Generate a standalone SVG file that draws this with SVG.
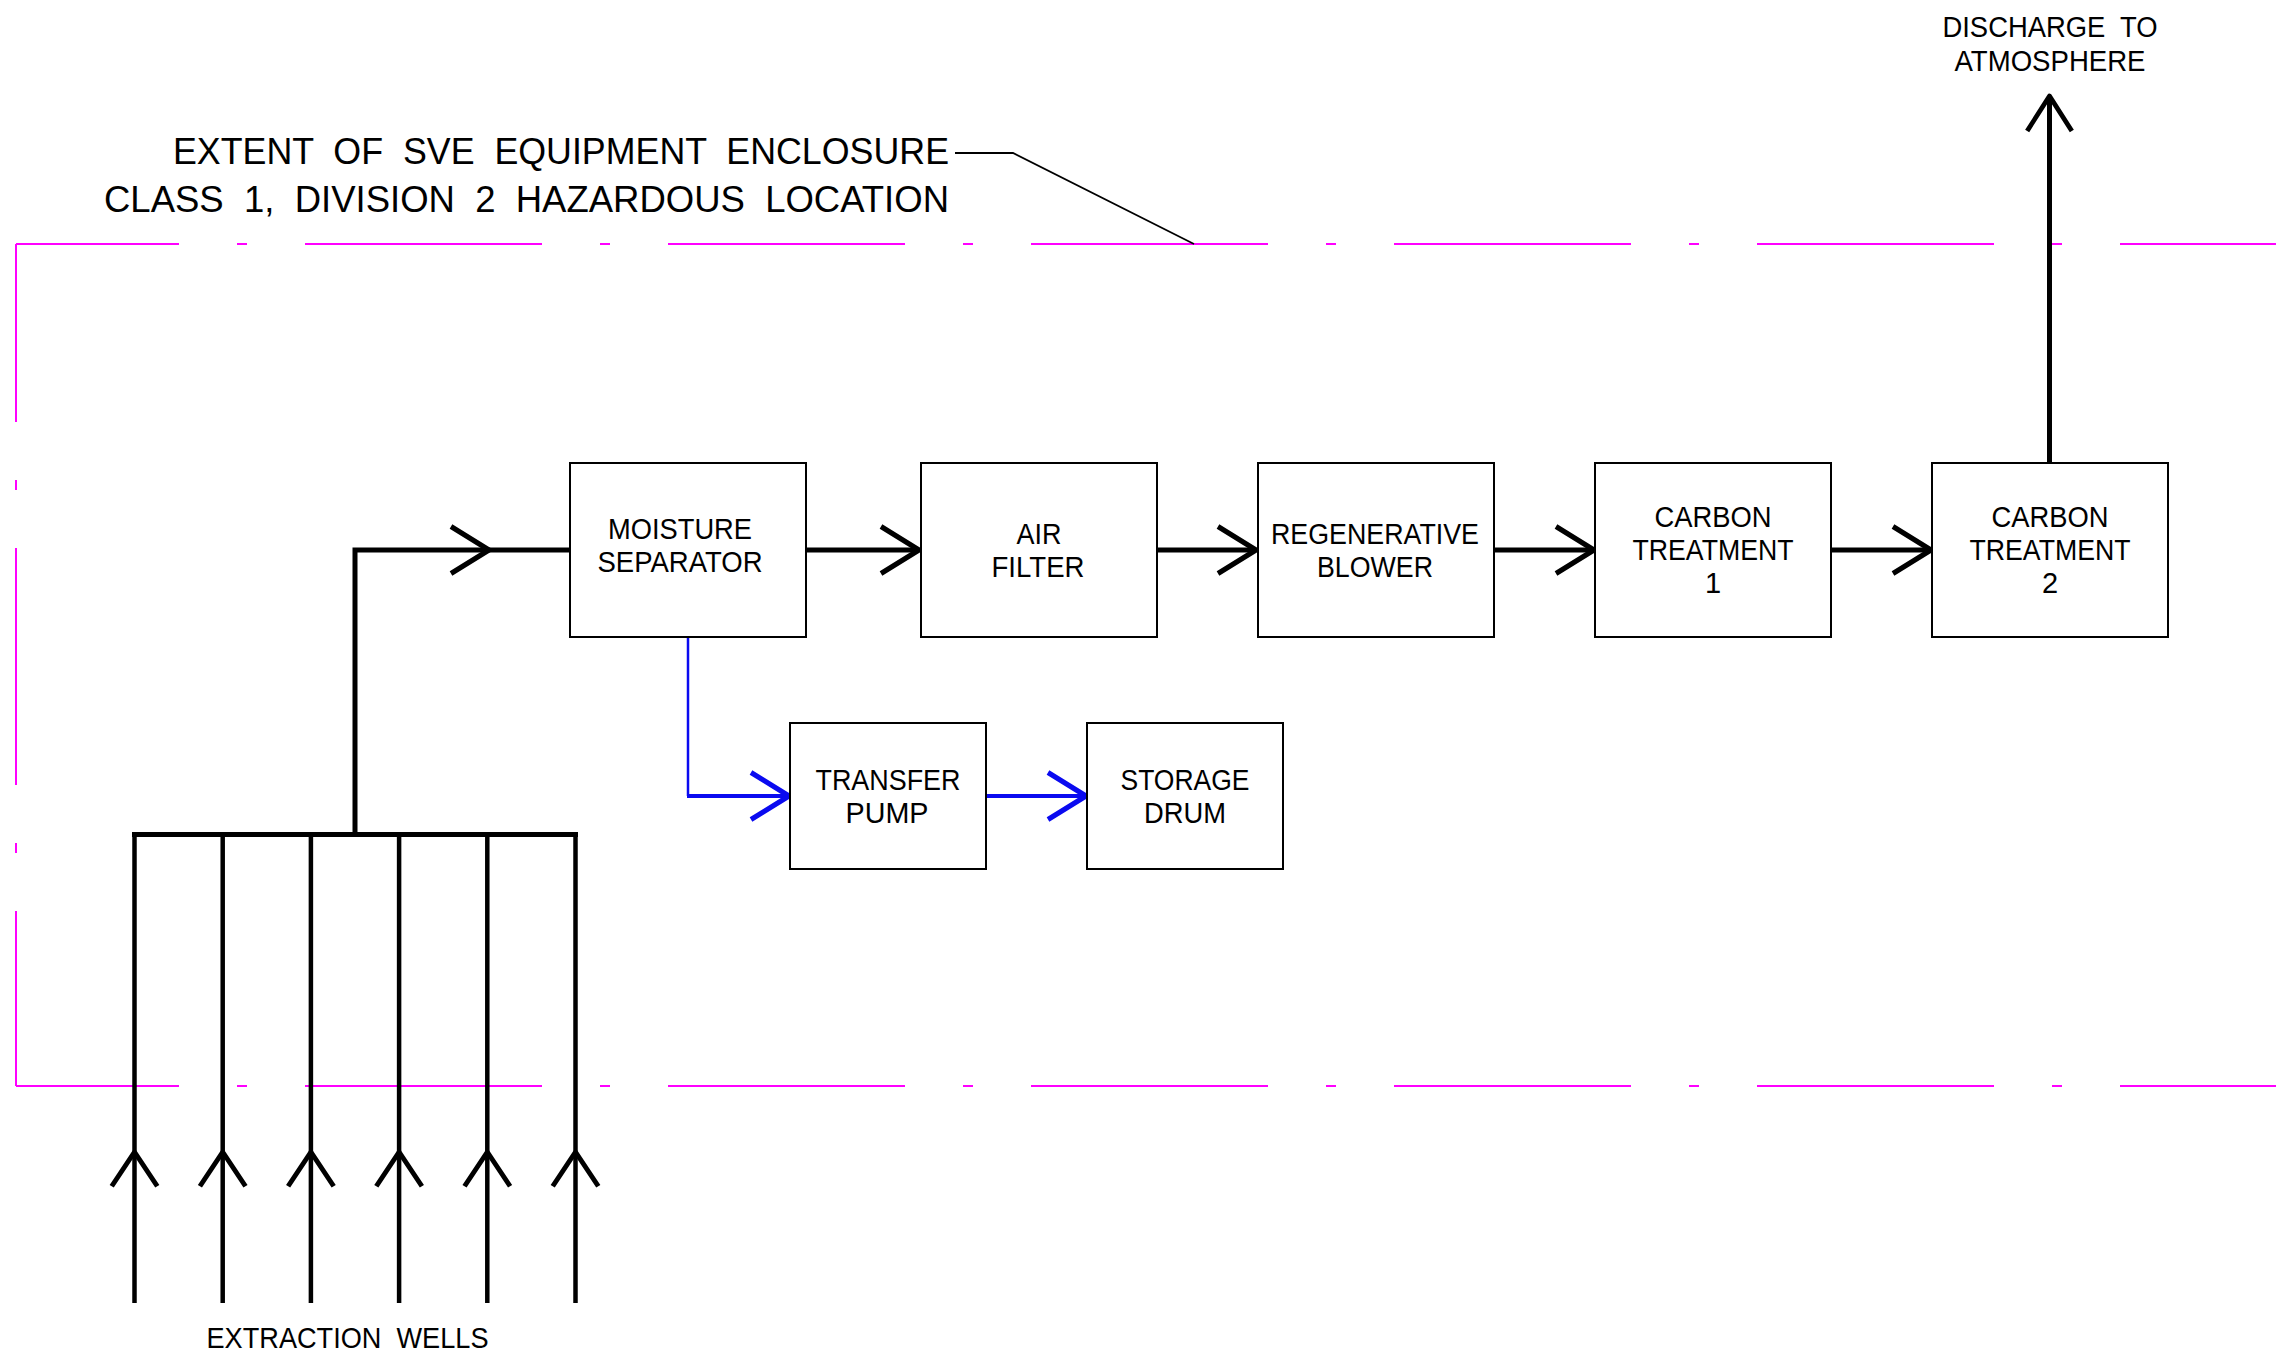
<svg xmlns="http://www.w3.org/2000/svg" xmlns:xlink="http://www.w3.org/1999/xlink" width="2276" height="1355" viewBox="0 0 2276 1355">
<style>
.enc{fill:none;stroke:#FF00FF;stroke-width:2;stroke-dasharray:237 58 10 58}
.box{fill:#fff;stroke:#000;stroke-width:2}
.t{font-family:"Liberation Sans",Arial,sans-serif;font-size:29px;fill:#000;text-anchor:middle}
.big{font-family:"Liberation Sans",Arial,sans-serif;font-size:37px;fill:#000;text-anchor:end}
.pipe{fill:none;stroke:#000;stroke-width:5;stroke-linecap:butt}
.well{fill:none;stroke:#000;stroke-width:4.5}
.ch{fill:none;stroke:#000;stroke-width:5;stroke-linejoin:round;stroke-linecap:butt}
.bl{fill:none;stroke:#0A0AF0;stroke-width:4}
.blt{fill:none;stroke:#0A0AF0;stroke-width:2.5}
.chb{fill:none;stroke:#0A0AF0;stroke-width:5;stroke-linejoin:round}
.lead{fill:none;stroke:#000;stroke-width:1.8}
</style>
<defs>
<path id="chev" d="M-38,-23.5 L0,0 L-38,23.5"/>
</defs>
<rect width="2276" height="1355" fill="#fff"/>

<g id="enclosure">
<line class="enc" x1="16" y1="244" x2="2290" y2="244" stroke-dashoffset="74"/>
<line class="enc" x1="16" y1="1086" x2="2290" y2="1086" stroke-dashoffset="74"/>
<line class="enc" x1="16" y1="244" x2="16" y2="1086" stroke-dashoffset="59"/>
<text class="big" xml:space="preserve" x="949" y="164" textLength="776" lengthAdjust="spacingAndGlyphs">EXTENT  OF  SVE  EQUIPMENT  ENCLOSURE</text>
<text class="big" xml:space="preserve" x="949" y="212" textLength="845" lengthAdjust="spacingAndGlyphs">CLASS  1,  DIVISION  2  HAZARDOUS  LOCATION</text>
<polyline class="lead" points="955,153 1013,153 1194,244"/>
</g>

<g id="connectors">
<line class="pipe" x1="132" y1="834.5" x2="578" y2="834.5"/>
<line class="well" x1="134.5" y1="832" x2="134.5" y2="1303"/>
<line class="well" x1="222.7" y1="832" x2="222.7" y2="1303"/>
<line class="well" x1="310.9" y1="832" x2="310.9" y2="1303"/>
<line class="well" x1="399.1" y1="832" x2="399.1" y2="1303"/>
<line class="well" x1="487.3" y1="832" x2="487.3" y2="1303"/>
<line class="well" x1="575.5" y1="832" x2="575.5" y2="1303"/>
<use href="#chev" xlink:href="#chev" class="ch" transform="translate(134.5,1152) rotate(-90) scale(0.9,0.97)"/>
<use href="#chev" xlink:href="#chev" class="ch" transform="translate(222.7,1152) rotate(-90) scale(0.9,0.97)"/>
<use href="#chev" xlink:href="#chev" class="ch" transform="translate(310.9,1152) rotate(-90) scale(0.9,0.97)"/>
<use href="#chev" xlink:href="#chev" class="ch" transform="translate(399.1,1152) rotate(-90) scale(0.9,0.97)"/>
<use href="#chev" xlink:href="#chev" class="ch" transform="translate(487.3,1152) rotate(-90) scale(0.9,0.97)"/>
<use href="#chev" xlink:href="#chev" class="ch" transform="translate(575.5,1152) rotate(-90) scale(0.9,0.97)"/>
<polyline class="pipe" points="355,834.5 355,550 570,550"/>
<use href="#chev" xlink:href="#chev" class="ch" transform="translate(489,550)"/>
<line class="pipe" x1="806" y1="550" x2="919" y2="550"/>
<use href="#chev" xlink:href="#chev" class="ch" transform="translate(919,550)"/>
<line class="pipe" x1="1157" y1="550" x2="1256" y2="550"/>
<use href="#chev" xlink:href="#chev" class="ch" transform="translate(1256,550)"/>
<line class="pipe" x1="1494" y1="550" x2="1594" y2="550"/>
<use href="#chev" xlink:href="#chev" class="ch" transform="translate(1594,550)"/>
<line class="pipe" x1="1831" y1="550" x2="1931" y2="550"/>
<use href="#chev" xlink:href="#chev" class="ch" transform="translate(1931,550)"/>
<line class="pipe" x1="2049.5" y1="463" x2="2049.5" y2="97"/>
<use href="#chev" xlink:href="#chev" class="ch" transform="translate(2049.5,96) rotate(-90) scale(0.92,0.95)"/>
<polyline class="blt" points="688,637 688,796"/>
<line class="bl" x1="687" y1="796" x2="789" y2="796"/>
<use href="#chev" xlink:href="#chev" class="chb" transform="translate(789,796)"/>
<line class="bl" x1="986" y1="796" x2="1086" y2="796"/>
<use href="#chev" xlink:href="#chev" class="chb" transform="translate(1086,796)"/>
</g>

<g id="moisture-separator">
<rect class="box" x="570" y="463" width="236" height="174"/>
<text class="t" x="680" y="539" textLength="144" lengthAdjust="spacingAndGlyphs">MOISTURE</text>
<text class="t" x="680" y="572" textLength="165" lengthAdjust="spacingAndGlyphs">SEPARATOR</text>
</g>
<g id="air-filter">
<rect class="box" x="921" y="463" width="236" height="174"/>
<text class="t" x="1039" y="544" textLength="45" lengthAdjust="spacingAndGlyphs">AIR</text>
<text class="t" x="1038" y="577" textLength="93" lengthAdjust="spacingAndGlyphs">FILTER</text>
</g>
<g id="regenerative-blower">
<rect class="box" x="1258" y="463" width="236" height="174"/>
<text class="t" x="1375" y="544" textLength="208" lengthAdjust="spacingAndGlyphs">REGENERATIVE</text>
<text class="t" x="1375" y="577" textLength="116" lengthAdjust="spacingAndGlyphs">BLOWER</text>
</g>
<g id="carbon-treatment-1">
<rect class="box" x="1595" y="463" width="236" height="174"/>
<text class="t" x="1713" y="527" textLength="117" lengthAdjust="spacingAndGlyphs">CARBON</text>
<text class="t" x="1713" y="560" textLength="161" lengthAdjust="spacingAndGlyphs">TREATMENT</text>
<text class="t" x="1713" y="593">1</text>
</g>
<g id="carbon-treatment-2">
<rect class="box" x="1932" y="463" width="236" height="174"/>
<text class="t" x="2050" y="527" textLength="117" lengthAdjust="spacingAndGlyphs">CARBON</text>
<text class="t" x="2050" y="560" textLength="161" lengthAdjust="spacingAndGlyphs">TREATMENT</text>
<text class="t" x="2050" y="593">2</text>
</g>
<g id="transfer-pump">
<rect class="box" x="790" y="723" width="196" height="146"/>
<text class="t" x="888" y="790" textLength="145" lengthAdjust="spacingAndGlyphs">TRANSFER</text>
<text class="t" x="887" y="823" textLength="83" lengthAdjust="spacingAndGlyphs">PUMP</text>
</g>
<g id="storage-drum">
<rect class="box" x="1087" y="723" width="196" height="146"/>
<text class="t" x="1185" y="790" textLength="129" lengthAdjust="spacingAndGlyphs">STORAGE</text>
<text class="t" x="1185" y="823" textLength="82" lengthAdjust="spacingAndGlyphs">DRUM</text>
</g>
<g id="discharge-label">
<text class="t" xml:space="preserve" x="2050" y="37" textLength="215" lengthAdjust="spacingAndGlyphs">DISCHARGE  TO</text>
<text class="t" x="2050" y="71" textLength="191" lengthAdjust="spacingAndGlyphs">ATMOSPHERE</text>
</g>
<g id="extraction-wells-label">
<text class="t" xml:space="preserve" x="347.5" y="1348" textLength="282" lengthAdjust="spacingAndGlyphs">EXTRACTION  WELLS</text>
</g>
</svg>
